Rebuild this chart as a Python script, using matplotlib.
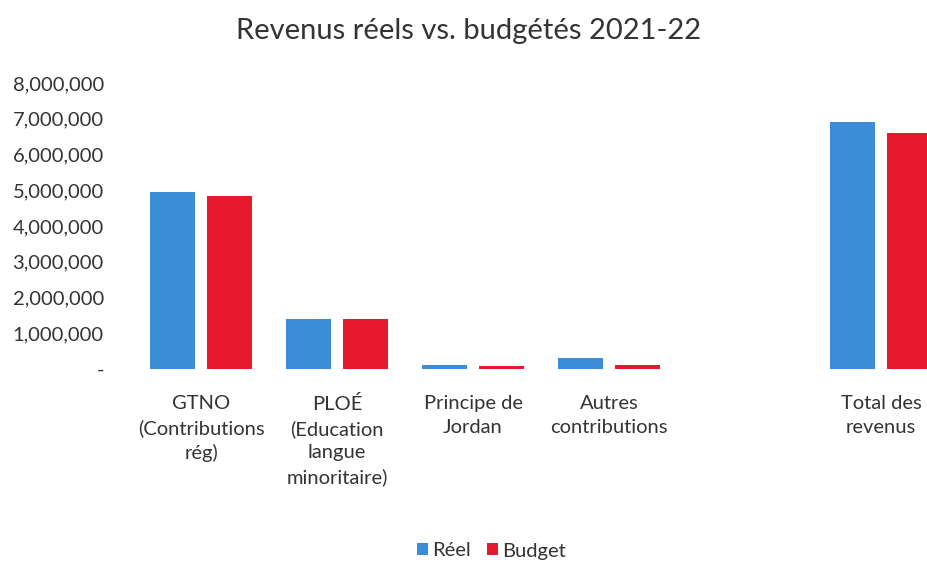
import numpy as np
import matplotlib
matplotlib.use("Agg")
from matplotlib import pyplot
from matplotlib.ticker import FuncFormatter

pyplot.rcParams['font.family'] = ['Lato', 'DejaVu Sans']

# revenue categories (blank slot separates the total)
categories = ["GTNO\n(Contributions\nrég)", "PLOÉ\n(Education\nlangue\nminoritaire)",
              "Principe de\nJordan", "Autres\ncontributions", "", "Total des\nrevenus"]
reel = [4950000, 1400000, 100000, 300000, np.nan, 6900000]
budget = [4850000, 1400000, 80000, 120000, np.nan, 6600000]
yticks = np.arange(0, 8000001, 1000000)

blue = '#3b8dd8'
red = '#e6192d'

fig = pyplot.figure(figsize=(9.27, 5.64), dpi=100)
ax = fig.add_axes([133 / 927, 195 / 564, 816 / 927, 286 / 564])

x = np.arange(len(categories))
w = 0.335
ax.bar(x - 0.21, reel, w, color=blue, label='Réel')
ax.bar(x + 0.21, budget, w, color=red, label='Budget')

ax.set_xlim(-0.5, len(categories) - 0.5)
ax.set_ylim(0, 8000000)
ax.set_yticks(yticks)
ax.yaxis.set_major_formatter(FuncFormatter(lambda v, p: '-' if v == 0 else f'{v:,.0f}'))
ax.set_xticks(x)
ax.set_xticklabels(categories, fontsize=14.5, color='#333333', linespacing=1.45)
ax.tick_params(axis='y', length=0, pad=21, labelsize=14.5, labelcolor='#333333')
ax.tick_params(axis='x', length=0, pad=19)
for s in ax.spines.values():
    s.set_visible(False)

fig.text(469 / 927, 1 - 31 / 564, 'Revenus réels vs. budgétés 2021-22', ha='center', va='center',
         fontsize=21, color='#333333')

fig.legend(loc='center', bbox_to_anchor=(491 / 927, 1 - 551 / 564), ncol=2, frameon=False,
           fontsize=14.5, handlelength=0.55, handleheight=0.55, handletextpad=0.2,
           columnspacing=0.8, labelcolor='#333333')

fig.savefig('out.png', dpi=100)
